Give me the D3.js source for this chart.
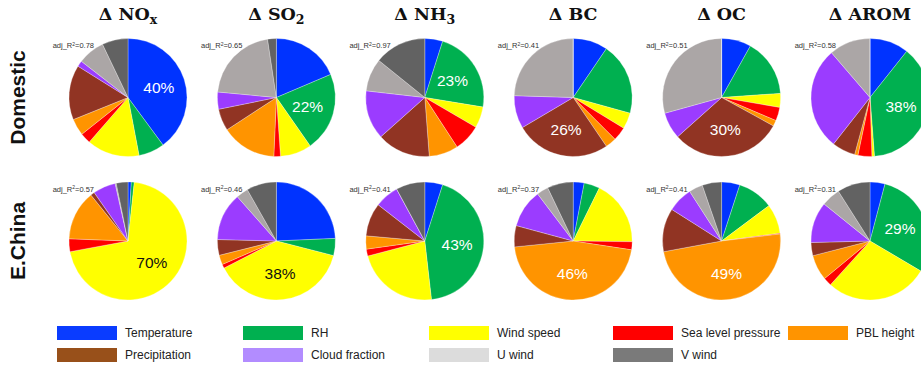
<!DOCTYPE html>
<html>
<head>
<meta charset="utf-8">
<script src="https://cdn.jsdelivr.net/npm/d3@7"></script>
<style>
  html, body { margin: 0; padding: 0; background: #fff; }
  svg { display: block; }
</style>
</head>
<body>
<svg id="chart" width="921" height="370"></svg>
<script>
// Meteorological drivers, in slice order (clockwise from 12 o'clock)
const drivers = ["Temperature", "RH", "Wind speed", "Sea level pressure", "PBL height",
                 "Precipitation", "Cloud fraction", "U wind", "V wind"];
const sliceColors  = ["#0033ff", "#00b050", "#ffff00", "#ff0000", "#ff9400",
                      "#913423", "#9b3cff", "#aba6a6", "#626262"];
const legendColors = ["#0a3cff", "#00b050", "#ffff00", "#ff0000", "#ff9400",
                      "#98501a", "#b28cff", "#dcdcdc", "#7a7a7a"];

// Species columns: name and subscript
const speciesBase = ["NO", "SO", "NH", "BC", "OC", "AROM"];
const speciesSub  = ["x", "2", "3", "", "", ""];

const regions = ["Domestic", "E.China"];

// Contribution (%) of each driver, one row per species
const domesticShares = [
  [39.9,  7.1, 14.4, 2.9,  4.6, 15.0,  1.6,  7.4,  7.1],
  [18.6, 21.7,  8.6, 1.8, 15.1,  6.0,  4.7, 21.1,  2.4],
  [ 4.9, 22.7,  5.8, 7.4,  8.0, 14.6, 13.4,  9.0, 14.2],
  [ 9.5, 19.8,  4.4, 3.8,  3.0, 26.0,  9.0, 24.5,  0.0],
  [ 8.1, 15.8,  3.8, 3.7,  1.6, 30.4,  7.3, 29.3,  0.0],
  [10.7, 38.1,  0.7, 3.8,  0.9,  6.4, 28.1, 11.3,  0.0]
];
const eChinaShares = [
  [ 0.9,  0.8, 70.4, 3.5, 13.6,  1.1,  6.2,  0.3,  3.2],
  [24.3,  4.7, 38.4, 1.1,  2.6,  4.3, 13.1,  3.3,  8.2],
  [ 4.9, 43.3, 22.7, 1.9,  3.6,  9.1,  6.6,  0.0,  7.9],
  [ 3.0,  4.3, 17.9, 2.2, 46.0,  5.8, 10.5,  3.2,  7.1],
  [ 5.0,  9.8,  8.1, 0.2, 49.0, 11.9,  6.9,  3.8,  5.3],
  [ 4.1, 29.4, 28.2, 2.3,  7.0,  3.6, 11.2,  5.2,  9.0]
];

// Adjusted R² of each regression
const domesticR2 = ["0.78", "0.65", "0.97", "0.41", "0.51", "0.58"];
const eChinaR2   = ["0.57", "0.46", "0.41", "0.37", "0.41", "0.31"];

const svg = d3.select("#chart");
const R = 59;

// Column and row placement
const colX = d3.scalePoint().domain(d3.range(speciesBase.length)).range([128, 870]);
const rowY = d3.scalePoint().domain(regions).range([97.5, 241]);

const color = d3.scaleOrdinal().domain(drivers).range(sliceColors);

const pie = d3.pie().sort(null).value(d => d.value);
const arc = d3.arc().innerRadius(0).outerRadius(R);
const labelArc = d3.arc().innerRadius(R * 0.55).outerRadius(R * 0.55);

// Column titles
speciesBase.forEach((name, i) => {
  const t = svg.append("text")
    .attr("x", colX(i))
    .attr("y", 20)
    .attr("text-anchor", "middle")
    .attr("font-family", "DejaVu Serif, serif")
    .attr("font-weight", "bold")
    .attr("font-size", 17.5)
    .attr("fill", "#111");
  t.append("tspan").text("\u0394 " + name);
  if (speciesSub[i]) {
    t.append("tspan").attr("dy", 4).attr("font-size", 12.5).text(speciesSub[i]);
  }
});

// Row labels
regions.forEach(r => {
  svg.append("text")
    .attr("transform", `translate(25,${rowY(r)}) rotate(-90)`)
    .attr("text-anchor", "middle")
    .attr("font-family", "Liberation Sans, Arial, sans-serif")
    .attr("font-weight", "bold")
    .attr("font-size", 21)
    .attr("fill", "#111")
    .text(r);
});

const rows = [
  { region: "Domestic", shares: domesticShares, r2: domesticR2 },
  { region: "E.China",  shares: eChinaShares,   r2: eChinaR2 }
];

rows.forEach(row => {
  row.shares.forEach((vals, i) => {
    const cx = colX(i), cy = rowY(row.region);
    const g = svg.append("g").attr("transform", `translate(${cx},${cy})`);
    const data = vals.map((v, k) => ({ driver: drivers[k], value: v }));
    const arcs = pie(data);

    g.selectAll("path")
      .data(arcs)
      .join("path")
      .attr("d", arc)
      .attr("fill", d => color(d.data.driver))
      .attr("stroke", "#ffffff")
      .attr("stroke-opacity", 0.55)
      .attr("stroke-width", 0.5);

    // Label the dominant driver with its share
    const top = arcs.reduce((a, b) => (b.data.value > a.data.value ? b : a));
    const [lx, ly] = labelArc.centroid(top);
    g.append("text")
      .attr("x", lx)
      .attr("y", ly)
      .attr("dy", "0.35em")
      .attr("text-anchor", "middle")
      .attr("font-family", "Liberation Sans, Arial, sans-serif")
      .attr("font-size", 15.5)
      .attr("fill", top.data.driver === "Wind speed" ? "#111" : "#ffffff")
      .text(Math.round(top.data.value) + "%");

    // Goodness of fit
    const r2 = g.append("text")
      .attr("x", -34)
      .attr("y", -R + 9.5)
      .attr("text-anchor", "end")
      .attr("font-family", "Liberation Sans, Arial, sans-serif")
      .attr("font-size", 7.5)
      .attr("fill", "#333");
    r2.append("tspan").text("adj_R");
    r2.append("tspan").attr("dy", -2.5).attr("font-size", 5).text("2");
    r2.append("tspan").attr("dy", 2.5).text("=" + row.r2[i]);
  });
});

// Legend: two rows of five / four entries
const legendX = [57, 243, 429, 613, 788];
const legendRow = [333, 355];
drivers.forEach((name, k) => {
  const c = k % 5, r = Math.floor(k / 5);
  const x = legendX[c], y = legendRow[r];
  svg.append("rect")
    .attr("x", x).attr("y", y - 7)
    .attr("width", 60).attr("height", 14)
    .attr("fill", legendColors[k]);
  svg.append("text")
    .attr("x", x + 68).attr("y", y)
    .attr("dy", "0.35em")
    .attr("font-family", "Liberation Sans, Arial, sans-serif")
    .attr("font-size", 12)
    .attr("fill", "#222")
    .text(name);
});
</script>
</body>
</html>
